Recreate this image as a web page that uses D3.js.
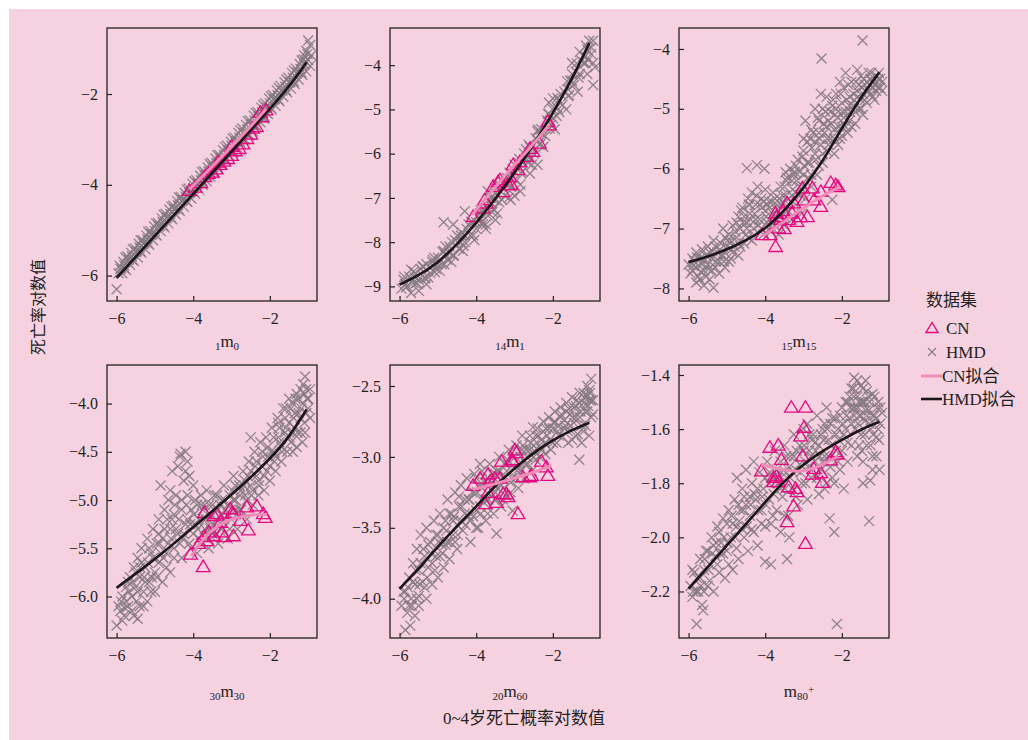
<!DOCTYPE html>
<html>
<head>
<meta charset="utf-8">
<script src="https://cdn.jsdelivr.net/npm/d3@7"></script>
<style>body{margin:0;background:#fff}</style>
</head>
<body>
<svg width="1028" height="740"></svg>
<script>
// ---- data (log scale values) ----
const xTicks = [-6, -4, -2];
const xDomain = [-6.25, -0.77];

const panelLabels = [["1","m","0",""],["14","m","1",""],["15","m","15",""],["30","m","30",""],["20","m","60",""],["","m","80","+"]];
const yDomains = [[-6.56,-0.545],[-9.33,-3.16],[-8.21,-3.65],[-6.43,-3.60],[-4.277,-2.352],[-2.372,-1.363]];
const yTicks = [[-6,-4,-2],[-9,-8,-7,-6,-5,-4],[-8,-7,-6,-5,-4],[-6,-5.5,-5,-4.5,-4],[-4,-3.5,-3,-2.5],[-2.2,-2,-1.8,-1.6,-1.4]];
const yFormats = ["d","d","d",".1f",".1f",".1f"];

const hmd1 = [[-6,-6.3],[-5.95,-5.95],[-5.9,-5.85],[-5.85,-5.95],[-5.8,-5.78],[-5.75,-5.88],[-5.7,-5.66],[-5.65,-5.76],[-5.6,-5.58],[-5.55,-5.68],[-5.5,-5.48],[-5.45,-5.6],[-5.4,-5.38],[-5.35,-5.5],[-5.3,-5.3],[-5.25,-5.42],[-5.2,-5.2],[-5.15,-5.32],[-5.1,-5.1],[-5.05,-5.22],[-5,-5.02],[-4.95,-5.12],[-4.9,-4.92],[-4.85,-5.02],[-4.8,-4.82],[-4.75,-4.94],[-4.7,-4.74],[-4.65,-4.85],[-4.6,-4.64],[-4.55,-4.76],[-4.5,-4.54],[-4.45,-4.66],[-4.4,-4.45],[-4.35,-4.58],[-4.3,-4.36],[-4.25,-4.48],[-4.2,-4.26],[-4.15,-4.38],[-4.1,-4.18],[-4.05,-4.3],[-4,-4.08],[-3.95,-4.2],[-3.9,-3.98],[-3.85,-4.1],[-3.8,-3.9],[-3.75,-4],[-3.7,-3.8],[-3.65,-3.92],[-3.6,-3.7],[-3.55,-3.82],[-3.5,-3.62],[-3.45,-3.74],[-3.4,-3.52],[-3.35,-3.64],[-3.3,-3.42],[-3.25,-3.56],[-3.2,-3.34],[-3.15,-3.46],[-3.1,-3.24],[-3.05,-3.36],[-3,-3.14],[-2.95,-3.28],[-2.9,-3.06],[-2.85,-3.18],[-2.8,-2.96],[-2.75,-3.1],[-2.7,-2.86],[-2.65,-3],[-2.6,-2.78],[-2.55,-2.9],[-2.5,-2.68],[-2.45,-2.82],[-2.4,-2.58],[-2.35,-2.72],[-2.3,-2.5],[-2.25,-2.62],[-2.2,-2.4],[-2.15,-2.54],[-2.1,-2.3],[-2.05,-2.44],[-2,-2.2],[-1.95,-2.34],[-1.9,-2.12],[-1.85,-2.26],[-1.8,-2.02],[-1.75,-2.16],[-1.7,-1.92],[-1.65,-2.06],[-1.6,-1.84],[-1.55,-1.96],[-1.5,-1.74],[-1.45,-1.88],[-1.4,-1.64],[-1.35,-1.78],[-1.3,-1.55],[-1.25,-1.68],[-1.2,-1.45],[-1.15,-1.58],[-1.1,-1.35],[-1.05,-1.5],[-1,-1.25],[-0.95,-1.38],[-1,-0.82],[-0.95,-0.92],[-1.05,-1.05],[-0.92,-1.15],[-1.1,-1.15],
  [-5.92,-5.78],[-5.82,-5.7],[-5.72,-5.58],[-5.62,-5.5],[-5.52,-5.4],[-5.42,-5.3],[-5.32,-5.22],[-5.22,-5.12],[-5.12,-5.02],[-5.02,-4.92],[-4.92,-4.84],[-4.82,-4.74],[-4.72,-4.64],[-4.62,-4.55],[-4.52,-4.46],[-4.42,-4.36],[-4.32,-4.27],[-4.22,-4.18],[-4.12,-4.08],[-4.02,-3.98],[-3.92,-3.9],[-3.82,-3.8],[-3.72,-3.7],[-3.62,-3.62],[-3.52,-3.52],[-3.42,-3.42],[-3.32,-3.34],[-3.22,-3.24],[-3.12,-3.14],[-3.02,-3.05],[-2.92,-2.96],[-2.82,-2.86],[-2.72,-2.76],[-2.62,-2.68],[-2.52,-2.58],[-2.42,-2.48],[-2.32,-2.4],[-2.22,-2.3],[-2.12,-2.2],[-2.02,-2.1],[-1.92,-2.02],[-1.82,-1.92],[-1.72,-1.82],[-1.62,-1.74],[-1.52,-1.64],[-1.42,-1.54],[-1.32,-1.44],[-1.22,-1.34],[-1.12,-1.24],[-1.02,-1.12],
  [-5.78,-5.85],[-5.58,-5.65],[-5.38,-5.46],[-5.18,-5.28],[-4.98,-5.1],[-4.78,-4.9],[-4.58,-4.72],[-4.38,-4.54],[-4.18,-4.35],[-3.98,-4.16],[-3.78,-3.98],[-3.58,-3.8],[-3.38,-3.6],[-3.18,-3.42],[-2.98,-3.24],[-2.78,-3.05],[-2.58,-2.86],[-2.38,-2.68],[-2.18,-2.5],[-1.98,-2.3],[-1.78,-2.12],[-1.58,-1.92],[-1.38,-1.72],[-1.18,-1.52]];
const hmd1Core = [[-5.87,-5.83],[-5.67,-5.64],[-5.47,-5.46],[-5.27,-5.27],[-5.07,-5.09],[-4.87,-4.9],[-4.67,-4.71],[-4.47,-4.53],[-4.27,-4.34],[-4.07,-4.16],[-3.87,-3.97],[-3.67,-3.78],[-3.47,-3.6],[-3.27,-3.41],[-3.07,-3.23],[-2.87,-3.04],[-2.67,-2.85],[-2.47,-2.67],[-2.27,-2.48],[-2.07,-2.3],[-1.87,-2.11],[-1.67,-1.92],[-1.47,-1.74],[-1.27,-1.52],[-1.07,-1.28],
  [-5.77,-5.6],[-5.57,-5.42],[-5.37,-5.22],[-5.17,-5.04],[-4.97,-4.85],[-4.77,-4.66],[-4.57,-4.48],[-4.37,-4.28],[-4.17,-4.1],[-3.97,-3.92],[-3.77,-3.72],[-3.57,-3.54],[-3.37,-3.35],[-3.17,-3.17],[-2.97,-2.98],[-2.77,-2.8],[-2.57,-2.6],[-2.37,-2.42],[-2.17,-2.24],[-1.97,-2.05],[-1.77,-1.86],[-1.57,-1.68],[-1.37,-1.48],[-1.17,-1.26]];
const cn1 = [[-4.1,-4.12],[-3.95,-4.05],[-3.8,-3.95],[-3.7,-3.82],[-3.6,-3.75],[-3.5,-3.72],[-3.4,-3.65],[-3.35,-3.5],[-3.3,-3.55],[-3.2,-3.48],[-3.1,-3.42],[-3,-3.35],[-3,-3.15],[-2.9,-3.25],[-2.8,-3.2],[-2.7,-3.1],[-2.6,-2.98],[-2.5,-2.88],[-2.45,-2.75],[-2.35,-2.72],[-2.25,-2.4],[-2.2,-2.5],[-2.1,-2.35]];
const hmdFit1 = [[-6,-6.05],[-5,-5.12],[-4,-4.2],[-3,-3.27],[-2,-2.33],[-1.5,-1.84],[-1.04,-1.3]];
const cnFit1 = [[-4.1,-4.1],[-3.5,-3.6],[-3,-3.15],[-2.5,-2.72],[-2.1,-2.33]];

const hmd2 = [[-5.95,-9.05],[-5.9,-8.85],[-5.8,-9],[-5.75,-8.78],[-5.65,-8.92],[-5.6,-8.7],[-5.5,-8.85],[-5.45,-8.6],[-5.35,-8.8],[-5.3,-8.5],[-5.2,-8.7],[-5.15,-8.45],[-5.05,-8.6],[-5,-8.35],[-4.9,-8.5],[-4.85,-8.2],[-4.75,-8.4],[-4.7,-8.1],[-4.6,-8.3],[-4.55,-7.95],[-4.45,-8.15],[-4.4,-7.85],[-4.3,-8],[-4.25,-7.7],[-4.15,-7.85],[-4.1,-7.55],[-4,-7.7],[-3.95,-7.4],[-3.85,-7.55],[-3.8,-7.25],[-3.7,-7.4],[-3.65,-7.08],[-3.55,-7.25],[-3.5,-6.9],[-3.4,-7.1],[-3.35,-6.75],[-3.25,-6.95],[-3.2,-6.55],[-3.1,-6.75],[-3.05,-6.35],[-2.95,-6.6],[-2.9,-6.2],[-2.8,-6.4],[-2.75,-6],[-2.65,-6.2],[-2.6,-5.85],[-2.5,-6],[-2.45,-5.65],[-2.35,-5.8],[-2.3,-5.45],[-2.2,-5.6],[-2.15,-5.25],[-2.05,-5.35],[-2,-5],[-1.9,-5.15],[-1.85,-4.8],[-1.75,-4.9],[-1.7,-4.6],[-1.6,-4.7],[-1.55,-4.35],[-1.45,-4.45],[-1.4,-4.15],[-1.3,-4.2],[-1.25,-3.9],[-1.15,-3.95],[-1.1,-3.65],[-1,-3.75],[-1.05,-3.45],[-0.95,-3.45],[-0.9,-4.05],[-0.95,-4.45],[-4.85,-7.55],[-3,-6.95],[-2.85,-6.85],[-3.1,-7.05],[-2.6,-6.45],[-2.4,-6.25],[-3.75,-7.7],[-3.5,-7.5],[-4.3,-7.3],[-4.6,-7.6],[-2,-4.75],[-2.1,-4.85],[-1.5,-3.95],[-1.3,-3.7],[-5.7,-9.15],[-5.5,-9.1],[-5.3,-8.95],[-5.6,-8.8],[-5.2,-8.58],[-4.8,-8.28],[-4.4,-8],[-4,-7.55],[-3.6,-7.12],[-3.2,-6.7],[-2.8,-6.2],[-2.4,-5.7],[-2,-5.2],[-1.6,-4.55],[-1.2,-3.95],
  [-5.85,-8.95],[-5.7,-8.62],[-5.55,-8.92],[-5.4,-8.55],[-5.25,-8.8],[-5.1,-8.35],[-4.95,-8.65],[-4.8,-8.1],[-4.65,-8.45],[-4.5,-7.85],[-4.35,-8.2],[-4.2,-7.6],[-4.05,-7.95],[-3.9,-7.35],[-3.75,-7.6],[-3.6,-7],[-3.45,-7.35],[-3.3,-6.65],[-3.15,-7],[-3,-6.25],[-2.85,-6.7],[-2.7,-5.9],[-2.55,-6.25],[-2.4,-5.5],[-2.25,-5.85],[-2.1,-5.1],[-1.95,-5.45],[-1.8,-4.65],[-1.65,-5],[-1.5,-4.2],[-1.35,-4.6],[-1.2,-3.8],[-1.1,-4.2],[-1,-3.6],[-0.95,-3.95],[-5,-8.5],[-4.7,-8.25],[-4.3,-7.85],[-3.9,-7.5],[-3.5,-7.05],[-3.1,-6.55],[-2.7,-6.1],[-2.3,-5.55],[-1.9,-4.95],[-1.5,-4.35],[-1.15,-3.8],[-3.7,-6.85]];
const hmd2Core = [[-5.88,-8.78],[-5.83,-9.02],[-5.63,-8.66],[-5.58,-8.93],[-5.38,-8.55],[-5.33,-8.82],[-5.13,-8.4],[-5.08,-8.68],[-4.88,-8.22],[-4.83,-8.5],[-4.63,-8],[-4.58,-8.3],[-4.38,-7.78],[-4.33,-8.08],[-4.13,-7.54],[-4.08,-7.85],[-3.88,-7.28],[-3.83,-7.6],[-3.63,-7],[-3.58,-7.32],[-3.38,-6.72],[-3.33,-7.04],[-3.13,-6.43],[-3.08,-6.74],[-2.88,-6.12],[-2.83,-6.44],[-2.63,-5.8],[-2.58,-6.12],[-2.38,-5.46],[-2.33,-5.78],[-2.13,-5.1],[-2.08,-5.43],[-1.88,-4.74],[-1.83,-5.06],[-1.63,-4.36],[-1.58,-4.68],[-1.38,-3.96],[-1.33,-4.28],[-1.13,-3.56],[-1.08,-3.88]];
const cn2 = [[-4.08,-7.42],[-3.82,-7.23],[-3.78,-7.04],[-3.73,-7.12],[-3.56,-6.74],[-3.43,-6.63],[-3.38,-6.59],[-3.3,-6.86],[-3.17,-6.7],[-3.08,-6.7],[-3.12,-6.52],[-3.04,-6.25],[-2.91,-6.36],[-2.86,-6.18],[-2.69,-6.06],[-2.6,-5.88],[-2.52,-5.95],[-2.35,-5.76],[-2.13,-5.27],[-2.09,-5.35]];
const hmdFit2 = [[-6,-8.96],[-5.5,-8.75],[-5,-8.47],[-4.5,-8.05],[-4,-7.57],[-3.5,-7.02],[-3,-6.44],[-2.5,-5.79],[-2,-5.09],[-1.5,-4.32],[-1.05,-3.5]];
const cnFit2 = [[-4.1,-7.38],[-3.5,-6.75],[-3,-6.25],[-2.5,-5.78],[-2.1,-5.35]];

const hmd3 = [[-6,-7.6],[-5.9,-7.5],[-5.9,-7.7],[-5.8,-7.4],[-5.8,-7.65],[-5.8,-7.9],[-5.75,-7.8],[-5.7,-7.5],[-5.65,-7.35],[-5.6,-7.7],[-5.6,-7.95],[-5.55,-7.45],[-5.5,-7.6],[-5.5,-7.3],[-5.45,-7.85],[-5.4,-7.5],[-5.35,-7.99],[-5.35,-7.2],[-5.3,-7.65],[-5.25,-7.4],[-5.2,-7.55],[-5.15,-7.25],[-5.1,-7.45],[-5.1,-7],[-5.05,-7.65],[-5,-7.3],[-4.95,-7.1],[-4.9,-7.5],[-4.85,-6.95],[-4.8,-7.3],[-4.75,-7.15],[-4.7,-6.8],[-4.7,-7.45],[-4.65,-7],[-4.6,-6.65],[-4.55,-7.25],[-4.5,-6.9],[-4.45,-6.5],[-4.45,-7.15],[-4.4,-6.75],[-4.35,-6.4],[-4.3,-7],[-4.25,-6.6],[-4.2,-6.3],[-4.15,-6.85],[-4.1,-6.5],[-4.05,-7.1],[-4,-6.7],[-4,-6.35],[-3.95,-6.9],[-3.9,-6.55],[-3.85,-7.05],[-3.8,-6.75],[-3.8,-6.4],[-3.75,-6.95],[-3.7,-6.6],[-3.65,-7.1],[-3.6,-6.8],[-3.6,-6.3],[-3.55,-6.55],[-3.5,-6.95],[-3.45,-6.2],[-3.4,-6.7],[-3.35,-6],[-3.3,-6.45],[-3.3,-6.85],[-3.25,-6.1],[-3.2,-6.6],[-3.15,-5.85],[-3.1,-6.3],[-3.05,-6.75],[-3,-5.7],[-3,-6.1],[-2.95,-6.5],[-2.9,-5.55],[-2.85,-5.9],[-2.8,-6.3],[-2.75,-5.4],[-2.7,-5.75],[-2.65,-6.1],[-2.6,-5.2],[-2.55,-5.6],[-2.5,-5],[-2.5,-5.9],[-2.45,-5.4],[-2.4,-4.8],[-2.4,-5.7],[-2.35,-5.2],[-2.3,-5.5],[-2.25,-4.95],[-2.2,-5.35],[-2.2,-5.75],[-2.15,-4.75],[-2.1,-5.15],[-2.05,-5.5],[-2.05,-4.55],[-2,-4.9],[-2,-5.3],[-1.95,-4.65],[-1.9,-5.05],[-1.9,-4.4],[-1.85,-5.4],[-1.8,-4.8],[-1.8,-5.2],[-1.75,-4.55],[-1.7,-4.95],[-1.65,-5.25],[-1.6,-4.7],[-1.6,-4.35],[-1.55,-5],[-1.5,-4.45],[-1.5,-4.85],[-1.45,-5.1],[-1.4,-4.6],[-1.35,-4.9],[-1.3,-4.4],[-1.25,-4.75],[-1.2,-4.55],[-1.15,-4.85],[-1.1,-4.45],[-1.05,-4.65],[-1,-4.5],[-0.95,-4.7],[-1.46,-3.86],[-2.53,-4.16],[-4.48,-5.99],[-4.22,-5.94],[-4.02,-6],[-2.25,-6.52],[-3.47,-6.06],
  [-5.95,-7.75],[-5.85,-7.55],[-5.7,-7.85],[-5.65,-7.6],[-5.55,-7.8],[-5.45,-7.4],[-5.4,-7.7],[-5.3,-7.3],[-5.2,-7.75],[-5.15,-7.45],[-5.05,-7.15],[-4.95,-7.55],[-4.9,-7.2],[-4.85,-7.4],[-4.75,-6.9],[-4.65,-7.3],[-4.55,-6.8],[-4.5,-7.1],[-4.4,-6.6],[-4.35,-7.2],[-4.25,-6.85],[-4.15,-6.6],[-4.1,-7],[-3.95,-6.6],[-3.9,-6.85],[-3.75,-6.5],[-3.7,-6.85],[-3.55,-6.45],[-3.5,-6.3],[-3.4,-6.5],[-3.3,-6.2],[-3.2,-6.4],[-3.1,-6.05],[-3,-6.3],[-2.9,-5.9],[-2.8,-6.1],[-2.7,-5.55],[-2.6,-5.95],[-2.6,-5.4],[-2.5,-5.75],[-2.4,-5.3],[-2.35,-5.6],[-2.3,-5.05],[-2.2,-5.5],[-2.15,-5],[-2.1,-5.6],[-2,-5.45],[-1.95,-5.15],[-1.9,-5.3],[-1.8,-4.95],[-1.75,-5.3],[-1.7,-4.75],[-1.65,-5.05],[-1.55,-4.6],[-1.5,-5],[-1.45,-4.75],[-1.4,-4.85],[-1.35,-4.55],[-1.3,-4.7],[-1.25,-4.5],[-1.2,-4.8],[-1.15,-4.6],[-1.1,-4.7],[-1.05,-4.5],[-1,-4.65],[-0.95,-4.55],[-2.8,-5.35],[-3,-5.5],[-3.2,-5.95],[-2.95,-5.2],[-2.7,-5],[-2.55,-4.75]];
const hmd3Core = [[-5.88,-7.62],[-5.78,-7.48],[-5.68,-7.72],[-5.58,-7.52],[-5.48,-7.68],[-5.38,-7.38],[-5.28,-7.55],[-5.18,-7.35],[-5.08,-7.55],[-4.98,-7.2],[-4.88,-7.35],[-4.78,-7.05],[-4.68,-7.25],[-4.58,-6.9],[-4.48,-7],[-4.38,-6.85],[-4.28,-6.75],[-4.18,-6.95],[-4.08,-6.65],[-3.98,-6.8],[-3.88,-6.65],[-3.78,-6.9],[-3.68,-6.7],[-3.58,-6.6],[-3.48,-6.45],[-3.38,-6.6],[-3.28,-6.35],[-3.18,-6.2],[-3.08,-6.45],[-2.98,-5.95],[-2.88,-6.15],[-2.78,-5.65],[-2.68,-5.85],[-2.58,-5.5],[-2.48,-5.25],[-2.38,-5.5],[-2.28,-5.25],[-2.18,-5.1],[-2.08,-5.3],[-1.98,-5.05],[-1.88,-4.85],[-1.78,-5.05],[-1.68,-4.85],[-1.58,-4.8],[-1.48,-4.65],[-1.38,-4.7],[-1.28,-4.6],[-1.18,-4.65],[-1.08,-4.55],[-1.03,-4.4],[-1.23,-4.4],[-1.43,-4.5],[-1.63,-4.55],[-1.83,-4.6],[-2.03,-4.75],[-2.23,-4.85],[-2.43,-5.05],[-2.63,-5.15],[-2.83,-5.5],[-3.03,-5.8],[-3.23,-6.05],[-3.43,-6.15],[-3.63,-6.5],[-3.83,-6.55],[-4.03,-6.55],[-4.23,-6.45],[-4.43,-6.6],[-4.63,-6.7]];
const cn3 = [[-4.08,-7.1],[-3.87,-7.1],[-3.73,-7.3],[-3.73,-6.74],[-3.7,-6.8],[-3.65,-6.99],[-3.6,-6.85],[-3.53,-6.7],[-3.5,-7],[-3.43,-6.57],[-3.4,-6.85],[-3.3,-6.74],[-3.25,-6.57],[-3.17,-6.88],[-3.08,-6.8],[-3.03,-6.32],[-2.99,-6.52],[-2.9,-6.8],[-2.77,-6.32],[-2.73,-6.52],[-2.55,-6.38],[-2.55,-6.63],[-2.29,-6.23],[-2.16,-6.27],[-2.1,-6.3]];
const hmdFit3 = [[-6,-7.56],[-5.5,-7.47],[-5,-7.35],[-4.5,-7.2],[-4,-7.01],[-3.5,-6.7],[-3,-6.33],[-2.5,-5.88],[-2,-5.32],[-1.5,-4.8],[-1.02,-4.39]];
const cnFit3 = [[-4.05,-7.12],[-3.5,-6.88],[-3,-6.65],[-2.5,-6.45],[-2.05,-6.3]];

const hmd4 = [[-6,-6.3],[-5.9,-6.15],[-5.85,-6],[-5.8,-6.2],[-5.75,-5.9],[-5.7,-6.1],[-5.65,-5.8],[-5.6,-6],[-5.55,-5.7],[-5.55,-6.2],[-5.5,-5.9],[-5.45,-5.6],[-5.45,-6.23],[-5.4,-6.1],[-5.4,-5.8],[-5.35,-5.5],[-5.3,-5.95],[-5.25,-5.7],[-5.2,-5.4],[-5.2,-6.05],[-5.15,-5.85],[-5.1,-5.55],[-5.05,-5.3],[-5,-5.75],[-5,-5.95],[-4.95,-5.45],[-4.9,-5.2],[-4.9,-5.65],[-4.85,-4.85],[-4.8,-5.4],[-4.8,-5.85],[-4.75,-5.1],[-4.7,-5.55],[-4.65,-5],[-4.6,-5.3],[-4.6,-5.75],[-4.55,-4.7],[-4.5,-5.15],[-4.5,-5.5],[-4.45,-4.95],[-4.4,-5.35],[-4.35,-4.55],[-4.33,-4.52],[-4.3,-5.1],[-4.3,-5.6],[-4.25,-4.8],[-4.2,-4.5],[-4.2,-5.25],[-4.15,-4.95],[-4.15,-4.6],[-4.1,-5.45],[-4.05,-5.1],[-4,-4.85],[-4,-5.35],[-3.95,-5],[-3.9,-5.55],[-3.85,-5.2],[-3.8,-4.95],[-3.8,-5.45],[-3.75,-5.1],[-3.7,-5.3],[-3.65,-4.9],[-3.6,-5.5],[-3.55,-5.15],[-3.5,-5.35],[-3.45,-4.95],[-3.4,-5.2],[-3.35,-5.45],[-3.3,-5.05],[-3.25,-5.3],[-3.2,-4.85],[-3.15,-5.1],[-3.1,-5.4],[-3.05,-4.95],[-3,-5.2],[-2.95,-4.75],[-2.9,-5],[-2.85,-5.3],[-2.8,-4.85],[-2.75,-5.1],[-2.7,-4.7],[-2.65,-4.95],[-2.6,-5.2],[-2.55,-4.6],[-2.5,-4.85],[-2.5,-4.35],[-2.45,-5.05],[-2.4,-4.5],[-2.35,-4.75],[-2.3,-4.95],[-2.25,-4.4],[-2.2,-4.65],[-2.15,-4.9],[-2.1,-4.35],[-2.05,-4.55],[-2,-4.8],[-1.95,-4.25],[-1.9,-4.5],[-1.85,-4.7],[-1.8,-4.15],[-1.75,-4.4],[-1.7,-4.6],[-1.65,-4.05],[-1.6,-4.3],[-1.55,-4.5],[-1.5,-3.95],[-1.5,-4.2],[-1.45,-4.4],[-1.4,-4],[-1.35,-4.25],[-1.3,-3.9],[-1.3,-4.45],[-1.25,-4.1],[-1.2,-3.85],[-1.2,-4.3],[-1.15,-4],[-1.1,-4.2],[-1.05,-3.85],[-1,-4.05],[-1.08,-3.72],[-0.95,-3.85],[-0.95,-4.15],
  [-5.95,-6.1],[-5.85,-6.25],[-5.75,-6.05],[-5.7,-5.85],[-5.6,-6.15],[-5.5,-5.75],[-5.45,-5.95],[-5.35,-5.65],[-5.3,-6.1],[-5.25,-5.85],[-5.15,-5.5],[-5.1,-5.95],[-5.05,-5.6],[-4.95,-5.8],[-4.9,-5.35],[-4.85,-5.55],[-4.75,-5.3],[-4.7,-5.7],[-4.65,-5.45],[-4.55,-5.2],[-4.5,-5.6],[-4.45,-5.3],[-4.35,-5.45],[-4.3,-5],[-4.25,-5.35],[-4.15,-5.2],[-4.1,-4.75],[-4.05,-5.5],[-3.95,-5.25],[-3.9,-5.05],[-3.85,-5.4],[-3.75,-5.2],[-3.7,-5.05],[-3.65,-5.4],[-3.55,-5.3],[-3.5,-5.05],[-3.4,-5.35],[-3.35,-5.1],[-3.25,-5],[-3.2,-5.2],[-3.1,-5.05],[-3.05,-5.3],[-2.95,-5],[-2.9,-4.85],[-2.8,-5.1],[-2.75,-4.9],[-2.65,-4.8],[-2.6,-5],[-2.5,-4.7],[-2.45,-4.9],[-2.35,-4.6],[-2.3,-4.8],[-2.2,-4.5],[-2.15,-4.75],[-2.05,-4.45],[-2,-4.65],[-1.9,-4.35],[-1.85,-4.55],[-1.75,-4.25],[-1.7,-4.45],[-1.6,-4.15],[-1.55,-4.35],[-1.45,-4.05],[-1.4,-4.3],[-1.35,-4.1],[-1.25,-3.95],[-1.2,-4.15],[-1.1,-3.9],[-1.05,-4.1],[-1,-3.95],[-1.15,-4.4],[-1.4,-4.5],[-4.4,-4.65],[-4.6,-4.9],[-4.2,-4.7]];
const hmd4Core = [[-5.88,-6.05],[-5.78,-6.12],[-5.68,-5.95],[-5.58,-5.85],[-5.48,-6.05],[-5.38,-5.7],[-5.28,-5.8],[-5.18,-5.65],[-5.08,-5.8],[-4.98,-5.6],[-4.88,-5.45],[-4.78,-5.6],[-4.68,-5.2],[-4.58,-5.4],[-4.48,-5.05],[-4.38,-5.2],[-4.28,-5.4],[-4.18,-5.05],[-4.08,-5.25],[-3.98,-5.15],[-3.88,-5.3],[-3.78,-5.05],[-3.68,-5.2],[-3.58,-5.05],[-3.48,-5.25],[-3.38,-4.95],[-3.28,-5.15],[-3.18,-5],[-3.08,-5.15],[-2.98,-4.9],[-2.88,-5.1],[-2.78,-4.95],[-2.68,-4.85],[-2.58,-4.75],[-2.48,-4.95],[-2.38,-4.65],[-2.28,-4.85],[-2.18,-4.55],[-2.08,-4.7],[-1.98,-4.5],[-1.88,-4.6],[-1.78,-4.35],[-1.68,-4.5],[-1.58,-4.25],[-1.48,-4.35],[-1.38,-4.15],[-1.28,-4.3],[-1.18,-4.05],[-1.08,-4.3],[-1.03,-3.95],[-1.13,-3.8],[-1.33,-3.95],[-1.58,-4.05],[-1.78,-4.2]];
const cn4 = [[-4.07,-5.56],[-3.85,-5.45],[-3.74,-5.69],[-3.72,-5.38],[-3.71,-5.13],[-3.64,-5.42],[-3.59,-5.33],[-3.46,-5.16],[-3.46,-5.37],[-3.38,-5.14],[-3.29,-5.23],[-3.25,-5.33],[-3.19,-5.38],[-3.03,-5.09],[-2.99,-5.13],[-2.95,-5.14],[-2.95,-5.37],[-2.77,-5.21],[-2.6,-5.07],[-2.56,-5.31],[-2.34,-5.06],[-2.17,-5.14],[-2.12,-5.18]];
const hmdFit4 = [[-6,-5.91],[-5,-5.62],[-4,-5.28],[-3,-4.95],[-2,-4.58],[-1.5,-4.35],[-1.04,-4.06]];
const cnFit4 = [[-4.05,-5.58],[-3.75,-5.4],[-3.4,-5.27],[-3,-5.19],[-2.5,-5.15],[-2.08,-5.15]];

const hmd5 = [[-5.95,-4.05],[-5.9,-3.95],[-5.85,-4.22],[-5.8,-4.1],[-5.75,-3.85],[-5.72,-4.19],[-5.7,-4],[-5.65,-3.75],[-5.6,-4.12],[-5.6,-3.9],[-5.55,-3.65],[-5.5,-3.98],[-5.5,-4.05],[-5.5,-3.8],[-5.45,-3.55],[-5.4,-3.88],[-5.35,-3.7],[-5.3,-4],[-5.3,-3.5],[-5.25,-3.78],[-5.2,-3.6],[-5.15,-3.9],[-5.1,-3.45],[-5.05,-3.7],[-5,-3.55],[-5,-3.85],[-4.95,-3.4],[-4.9,-3.62],[-4.85,-3.78],[-4.8,-3.45],[-4.75,-3.3],[-4.75,-3.6],[-4.7,-3.72],[-4.65,-3.4],[-4.6,-3.55],[-4.55,-3.25],[-4.5,-3.48],[-4.5,-3.65],[-4.45,-3.35],[-4.4,-3.2],[-4.35,-3.52],[-4.3,-3.3],[-4.25,-3.15],[-4.2,-3.42],[-4.15,-3.6],[-4.1,-3.25],[-4.05,-3.12],[-4,-3.38],[-3.95,-3.5],[-3.9,-3.2],[-3.85,-3.1],[-3.8,-3.32],[-3.75,-3.45],[-3.7,-3.15],[-3.65,-3.05],[-3.6,-3.28],[-3.55,-3.4],[-3.5,-3.12],[-3.47,-3.54],[-3.45,-3.22],[-3.4,-3],[-3.35,-3.35],[-3.3,-3.15],[-3.25,-3.05],[-3.2,-3.28],[-3.15,-2.95],[-3.1,-3.18],[-3.05,-3.38],[-3,-3.08],[-2.95,-2.92],[-2.9,-3.22],[-2.85,-3],[-2.8,-2.85],[-2.75,-3.15],[-2.7,-2.95],[-2.65,-3.05],[-2.6,-2.85],[-2.55,-3.1],[-2.52,-2.79],[-2.5,-2.92],[-2.45,-3.02],[-2.4,-2.8],[-2.35,-3],[-2.3,-2.88],[-2.25,-2.75],[-2.2,-2.98],[-2.15,-2.85],[-2.1,-2.72],[-2.05,-2.95],[-2,-2.8],[-1.95,-2.68],[-1.9,-2.9],[-1.85,-2.78],[-1.8,-2.65],[-1.75,-2.86],[-1.7,-2.74],[-1.65,-2.62],[-1.6,-2.82],[-1.55,-2.7],[-1.5,-2.58],[-1.5,-2.88],[-1.45,-2.76],[-1.4,-2.64],[-1.35,-2.84],[-1.31,-3.02],[-1.3,-2.55],[-1.3,-2.72],[-1.25,-2.9],[-1.2,-2.62],[-1.15,-2.78],[-1.1,-2.5],[-1.1,-2.68],[-1.05,-2.85],[-1.05,-2.53],[-1,-2.6],[-1,-2.45],[-0.95,-2.7],
  [-5.85,-3.95],[-5.75,-4.05],[-5.65,-3.88],[-5.55,-4],[-5.45,-3.75],[-5.35,-3.92],[-5.25,-3.62],[-5.15,-3.75],[-5.05,-3.55],[-4.95,-3.7],[-4.85,-3.5],[-4.8,-3.62],[-4.7,-3.4],[-4.6,-3.45],[-4.55,-3.6],[-4.45,-3.28],[-4.4,-3.45],[-4.3,-3.4],[-4.2,-3.3],[-4.15,-3.45],[-4.05,-3.25],[-4,-3.5],[-3.9,-3.35],[-3.85,-3.22],[-3.75,-3.3],[-3.7,-3.4],[-3.6,-3.18],[-3.5,-3.25],[-3.45,-3.1],[-3.35,-3.2],[-3.3,-3.3],[-3.2,-3.1],[-3.1,-3.25],[-3.05,-3],[-2.95,-3.15],[-2.85,-3.1],[-2.8,-2.95],[-2.7,-3.05],[-2.6,-2.95],[-2.5,-3],[-2.45,-2.85],[-2.35,-2.92],[-2.25,-2.82],[-2.2,-2.9],[-2.1,-2.8],[-2,-2.9],[-1.95,-2.75],[-1.85,-2.85],[-1.8,-2.72],[-1.7,-2.8],[-1.65,-2.68],[-1.55,-2.78],[-1.45,-2.65],[-1.4,-2.72],[-1.3,-2.62],[-1.25,-2.78],[-1.2,-2.55],[-1.15,-2.68],[-1.05,-2.6],[-1,-2.72],[-0.95,-2.6],[-1.2,-2.82],[-1.4,-2.85],[-1.6,-2.9],[-1.1,-2.57],[-3.9,-3.05],[-4,-3.15]];
const hmd5Core = [[-5.88,-4],[-5.78,-3.92],[-5.68,-4.05],[-5.58,-3.8],[-5.48,-3.9],[-5.38,-3.65],[-5.28,-3.85],[-5.18,-3.68],[-5.08,-3.8],[-4.98,-3.6],[-4.88,-3.68],[-4.78,-3.52],[-4.68,-3.6],[-4.58,-3.42],[-4.48,-3.55],[-4.38,-3.35],[-4.28,-3.48],[-4.18,-3.3],[-4.08,-3.42],[-3.98,-3.25],[-3.88,-3.4],[-3.78,-3.18],[-3.68,-3.3],[-3.58,-3.12],[-3.48,-3.3],[-3.38,-3.1],[-3.28,-3.22],[-3.18,-3.02],[-3.08,-3.15],[-2.98,-3],[-2.88,-3.08],[-2.78,-2.92],[-2.68,-3],[-2.58,-2.9],[-2.48,-2.96],[-2.38,-2.85],[-2.28,-2.95],[-2.18,-2.8],[-2.08,-2.88],[-1.98,-2.76],[-1.88,-2.82],[-1.78,-2.7],[-1.68,-2.78],[-1.58,-2.66],[-1.48,-2.72],[-1.38,-2.6],[-1.28,-2.68],[-1.18,-2.58],[-1.08,-2.64],[-1.03,-2.55]];
const cn5 = [[-4.08,-3.2],[-3.9,-3.15],[-3.77,-3.33],[-3.69,-3.12],[-3.69,-3.25],[-3.64,-3.17],[-3.51,-3.15],[-3.47,-3.32],[-3.38,-3.15],[-3.34,-3.03],[-3.3,-3.26],[-3.21,-3.26],[-3.17,-3.28],[-3.08,-3.02],[-3.04,-3.03],[-2.99,-2.95],[-2.95,-2.97],[-2.91,-3.4],[-2.78,-3.14],[-2.6,-3.14],[-2.56,-3.13],[-2.3,-3.03],[-2.17,-3.07],[-2.13,-3.13]];
const hmdFit5 = [[-6,-3.93],[-5.5,-3.79],[-5,-3.63],[-4.5,-3.49],[-4,-3.35],[-3.5,-3.2],[-3,-3.08],[-2.5,-2.97],[-2,-2.88],[-1.5,-2.81],[-1.05,-2.76]];
const cnFit5 = [[-4.08,-3.23],[-3.5,-3.19],[-3,-3.15],[-2.5,-3.11],[-2.05,-3.06]];

const hmd6 = [[-5.95,-2.18],[-5.9,-2.22],[-5.85,-2.13],[-5.79,-2.32],[-5.75,-2.2],[-5.7,-2.08],[-5.65,-2.25],[-5.62,-2.27],[-5.6,-2.12],[-5.55,-2.05],[-5.5,-2.18],[-5.45,-2.1],[-5.4,-2],[-5.35,-2.2],[-5.3,-2.07],[-5.25,-1.96],[-5.2,-2.13],[-5.15,-2.02],[-5.1,-1.93],[-5.05,-2.15],[-5,-2.05],[-4.95,-1.9],[-4.9,-2],[-4.85,-2.12],[-4.8,-1.86],[-4.75,-1.96],[-4.74,-1.78],[-4.7,-2.08],[-4.65,-1.9],[-4.6,-1.82],[-4.55,-2],[-4.5,-1.88],[-4.5,-1.75],[-4.45,-2.05],[-4.4,-1.92],[-4.35,-1.8],[-4.3,-1.72],[-4.3,-1.98],[-4.25,-1.86],[-4.2,-2.03],[-4.15,-1.76],[-4.1,-1.9],[-4.05,-1.82],[-4,-1.96],[-4,-2.09],[-3.95,-1.72],[-3.9,-1.86],[-3.85,-2.1],[-3.85,-1.95],[-3.8,-1.78],[-3.75,-1.68],[-3.7,-1.9],[-3.65,-1.8],[-3.6,-1.72],[-3.6,-1.98],[-3.55,-1.85],[-3.5,-1.66],[-3.45,-1.76],[-3.43,-2.08],[-3.4,-1.92],[-3.37,-2],[-3.35,-1.7],[-3.3,-1.82],[-3.25,-1.62],[-3.2,-1.75],[-3.15,-1.88],[-3.1,-1.66],[-3.05,-1.8],[-3,-1.6],[-2.95,-1.72],[-2.9,-1.58],[-2.9,-1.86],[-2.85,-1.68],[-2.8,-1.78],[-2.75,-1.62],[-2.7,-1.72],[-2.65,-1.55],[-2.6,-1.84],[-2.6,-1.66],[-2.55,-1.75],[-2.5,-1.6],[-2.45,-1.7],[-2.4,-1.52],[-2.4,-1.8],[-2.35,-1.64],[-2.32,-1.93],[-2.3,-1.74],[-2.25,-1.56],[-2.2,-1.98],[-2.2,-1.8],[-2.15,-1.68],[-2.13,-2.32],[-2.1,-1.6],[-2.05,-1.75],[-2,-1.52],[-2,-1.68],[-1.95,-1.82],[-1.9,-1.6],[-1.85,-1.5],[-1.85,-1.72],[-1.8,-1.56],[-1.75,-1.45],[-1.75,-1.66],[-1.7,-1.52],[-1.68,-1.41],[-1.65,-1.6],[-1.6,-1.48],[-1.6,-1.7],[-1.55,-1.55],[-1.5,-1.44],[-1.5,-1.62],[-1.45,-1.5],[-1.45,-1.72],[-1.4,-1.57],[-1.35,-1.46],[-1.35,-1.66],[-1.3,-1.53],[-1.29,-1.94],[-1.26,-1.79],[-1.25,-1.6],[-1.2,-1.47],[-1.2,-1.7],[-1.15,-1.55],[-1.1,-1.63],[-1.05,-1.5],[-1.02,-1.75],[-1,-1.58],[-0.95,-1.54],
  [-5.9,-2.12],[-5.8,-2.2],[-5.7,-2.15],[-5.6,-2.2],[-5.5,-2.05],[-5.45,-2.16],[-5.35,-2.03],[-5.25,-2.1],[-5.2,-1.98],[-5.1,-2.06],[-5,-1.95],[-4.95,-2.1],[-4.85,-1.95],[-4.75,-2.04],[-4.7,-1.88],[-4.6,-1.97],[-4.55,-1.85],[-4.4,-1.85],[-4.35,-1.97],[-4.2,-1.82],[-4.1,-1.95],[-4,-1.78],[-3.9,-1.8],[-3.8,-1.92],[-3.7,-1.75],[-3.6,-1.82],[-3.5,-1.92],[-3.45,-1.7],[-3.35,-1.78],[-3.25,-1.7],[-3.2,-1.85],[-3.1,-1.73],[-3,-1.68],[-2.95,-1.8],[-2.85,-1.62],[-2.8,-1.7],[-2.7,-1.65],[-2.65,-1.78],[-2.55,-1.62],[-2.5,-1.72],[-2.45,-1.58],[-2.35,-1.7],[-2.3,-1.58],[-2.25,-1.78],[-2.15,-1.62],[-2.1,-1.72],[-2.05,-1.55],[-1.95,-1.62],[-1.9,-1.5],[-1.85,-1.65],[-1.8,-1.48],[-1.75,-1.58],[-1.7,-1.45],[-1.65,-1.52],[-1.6,-1.42],[-1.55,-1.5],[-1.55,-1.66],[-1.5,-1.55],[-1.45,-1.45],[-1.4,-1.62],[-1.4,-1.5],[-1.35,-1.55],[-1.3,-1.48],[-1.25,-1.66],[-1.2,-1.55],[-1.15,-1.48],[-1.1,-1.56],[-1.1,-1.7],[-1.05,-1.6],[-1,-1.52],[-1.2,-1.75],[-1.45,-1.8],[-2.45,-1.82]];
const hmd6Core = [[-5.88,-2.2],[-5.78,-2.15],[-5.68,-2.18],[-5.58,-2.08],[-5.48,-2.12],[-5.38,-2.06],[-5.28,-2.02],[-5.18,-2.06],[-5.08,-2],[-4.98,-2.02],[-4.88,-1.92],[-4.78,-2],[-4.68,-1.94],[-4.58,-1.9],[-4.48,-1.96],[-4.38,-1.88],[-4.28,-1.84],[-4.18,-1.9],[-4.08,-1.85],[-3.98,-1.88],[-3.88,-1.76],[-3.78,-1.84],[-3.68,-1.78],[-3.58,-1.76],[-3.48,-1.82],[-3.38,-1.74],[-3.28,-1.76],[-3.18,-1.68],[-3.08,-1.76],[-2.98,-1.66],[-2.88,-1.74],[-2.78,-1.64],[-2.68,-1.68],[-2.58,-1.7],[-2.48,-1.64],[-2.38,-1.6],[-2.28,-1.66],[-2.18,-1.56],[-2.08,-1.64],[-1.98,-1.58],[-1.88,-1.55],[-1.78,-1.52],[-1.68,-1.55],[-1.58,-1.52],[-1.48,-1.5],[-1.38,-1.53],[-1.28,-1.58],[-1.18,-1.62],[-1.08,-1.52],[-1.03,-1.64],[-1.58,-1.58],[-1.48,-1.68],[-1.38,-1.42],[-1.28,-1.5],[-1.68,-1.48]];
const cn6 = [[-4.1,-1.754],[-3.88,-1.667],[-3.78,-1.794],[-3.78,-1.778],[-3.71,-1.773],[-3.66,-1.659],[-3.65,-1.794],[-3.58,-1.712],[-3.43,-1.942],[-3.39,-1.813],[-3.32,-1.519],[-3.26,-1.884],[-3.21,-1.819],[-3.17,-1.831],[-3.08,-1.625],[-3.03,-1.699],[-2.99,-1.593],[-2.95,-1.519],[-2.95,-2.022],[-2.77,-1.766],[-2.73,-1.745],[-2.55,-1.761],[-2.51,-1.797],[-2.29,-1.714],[-2.16,-1.683],[-2.12,-1.692]];
const hmdFit6 = [[-6,-2.19],[-5.5,-2.11],[-5,-2.03],[-4.5,-1.95],[-4,-1.87],[-3.5,-1.79],[-3,-1.73],[-2.5,-1.68],[-2,-1.64],[-1.5,-1.6],[-1.02,-1.573]];
const cnFit6 = [[-4.1,-1.73],[-3.6,-1.75],[-3.1,-1.76],[-2.6,-1.74],[-2.1,-1.7]];

const hmdSets = [hmd1.concat(hmd1Core), hmd2.concat(hmd2Core), hmd3.concat(hmd3Core),
                 hmd4.concat(hmd4Core), hmd5.concat(hmd5Core), hmd6.concat(hmd6Core)];
const cnSets = [cn1, cn2, cn3, cn4, cn5, cn6];
const hmdFits = [hmdFit1, hmdFit2, hmdFit3, hmdFit4, hmdFit5, hmdFit6];
const cnFits = [cnFit1, cnFit2, cnFit3, cnFit4, cnFit5, cnFit6];

const legendItems = ["CN", "HMD", "CN拟合", "HMD拟合"];

// ---- style ----
const bg = "#f6d2e0";
const grey = "#857981";
const magenta = "#e5087f";
const cnLine = "#f08cb8";
const dark = "#1c1618";
const font = "'Liberation Serif', 'Noto Sans CJK SC', serif";

const svg = d3.select("svg");
svg.append("rect").attr("x", 9).attr("y", 9).attr("width", 1019).attr("height", 731).attr("fill", bg);

const panelW = 210, panelH = 273;
const lefts = [107, 390, 679];
const tops = [28, 365];

const crossPath = "M-5,-5L5,5M-5,5L5,-5";
const triPath = "M0,-6.5L6.8,5L-6.8,5Z";

for (let i = 0; i < 6; i++) {
  const px = lefts[i % 3], py = tops[Math.floor(i / 3)];
  const g = svg.append("g").attr("transform", `translate(${px},${py})`);

  const x = d3.scaleLinear().domain(xDomain).range([0, panelW]);
  const y = d3.scaleLinear().domain(yDomains[i]).range([panelH, 0]);

  g.append("clipPath").attr("id", "clip" + i)
    .append("rect").attr("width", panelW).attr("height", panelH);
  const plot = g.append("g").attr("clip-path", `url(#clip${i})`);

  plot.selectAll(".hmd").data(hmdSets[i]).enter().append("path")
    .attr("transform", d => `translate(${x(d[0])},${y(d[1])})`)
    .attr("d", crossPath)
    .attr("stroke", grey).attr("stroke-width", 1.3).attr("fill", "none")
    .attr("stroke-opacity", 0.9);

  plot.selectAll(".cn").data(cnSets[i]).enter().append("path")
    .attr("transform", d => `translate(${x(d[0])},${y(d[1])})`)
    .attr("d", triPath)
    .attr("stroke", magenta).attr("stroke-width", 1.3).attr("fill", "none");

  const line = d3.line().x(d => x(d[0])).y(d => y(d[1])).curve(d3.curveBasis);
  plot.append("path").attr("d", line(hmdFits[i]))
    .attr("stroke", dark).attr("stroke-width", 2.6).attr("fill", "none");
  plot.append("path").attr("d", line(cnFits[i]))
    .attr("stroke", cnLine).attr("stroke-width", 3).attr("fill", "none");

  // axes with inward ticks
  const fmt = d3.format(yFormats[i]);
  const yAxis = g.append("g").call(d3.axisLeft(y).tickValues(yTicks[i]).tickSize(-5).tickPadding(9)
    .tickFormat(d => fmt(d).replace("-", "\u2212")));
  const xAxis = g.append("g").attr("transform", `translate(0,${panelH})`)
    .call(d3.axisBottom(x).tickValues(xTicks).tickSize(-5).tickPadding(12)
      .tickFormat(d => String(d).replace("-", "\u2212")));
  [yAxis, xAxis].forEach(a => {
    a.select(".domain").remove();
    a.selectAll("line").attr("stroke", "#222").attr("stroke-width", 1.2);
    a.selectAll("text").attr("font-family", font).attr("font-size", 16).attr("fill", "#222");
  });

  g.append("rect").attr("width", panelW).attr("height", panelH)
    .attr("fill", "none").attr("stroke", "#222").attr("stroke-width", 1.3);

  // panel label like 14m1
  const lab = panelLabels[i];
  const labY = i < 3 ? panelH + 46 : panelH + 59;
  const t = g.append("text").attr("x", panelW / 2 + 15).attr("y", labY)
    .attr("text-anchor", "middle").attr("font-family", font).attr("fill", "#222");
  if (lab[0]) t.append("tspan").attr("font-size", 11).attr("dy", 3).text(lab[0]);
  t.append("tspan").attr("font-size", 17).attr("dy", lab[0] ? -3 : 0).text(lab[1]);
  t.append("tspan").attr("font-size", 11).attr("dy", 3).text(lab[2]);
  if (lab[3]) t.append("tspan").attr("font-size", 11).attr("dy", -7).text(lab[3]);
}

// axis titles
svg.append("text").attr("x", 524).attr("y", 724).attr("text-anchor", "middle")
  .attr("font-family", font).attr("font-size", 17).attr("fill", "#222")
  .text("0~4岁死亡概率对数值");
svg.append("text").attr("transform", "translate(44,307) rotate(-90)").attr("text-anchor", "middle")
  .attr("font-family", font).attr("font-size", 16).attr("fill", "#222")
  .text("死亡率对数值");

// legend
const leg = svg.append("g").attr("transform", "translate(920,0)");
leg.append("text").attr("x", 6).attr("y", 306).attr("font-family", font).attr("font-size", 17)
  .attr("fill", "#222").text("数据集");
const rowsY = [328, 352, 376, 399];
leg.append("path").attr("transform", `translate(12,${rowsY[0]})`).attr("d", "M0,-5.5L6,4.5L-6,4.5Z")
  .attr("stroke", magenta).attr("stroke-width", 1.4).attr("fill", "none");
leg.append("path").attr("transform", `translate(12,${rowsY[1]})`).attr("d", "M-4,-4L4,4M-4,4L4,-4")
  .attr("stroke", grey).attr("stroke-width", 1.1);
leg.append("line").attr("x1", 1).attr("x2", 22).attr("y1", rowsY[2]).attr("y2", rowsY[2])
  .attr("stroke", cnLine).attr("stroke-width", 3);
leg.append("line").attr("x1", 1).attr("x2", 22).attr("y1", rowsY[3]).attr("y2", rowsY[3])
  .attr("stroke", dark).attr("stroke-width", 2.6);
legendItems.forEach((s, k) => {
  leg.append("text").attr("x", k < 2 ? 26 : 22).attr("y", rowsY[k] + 6)
    .attr("font-family", font).attr("font-size", 17).attr("fill", "#222").text(s);
});
</script>
</body>
</html>
